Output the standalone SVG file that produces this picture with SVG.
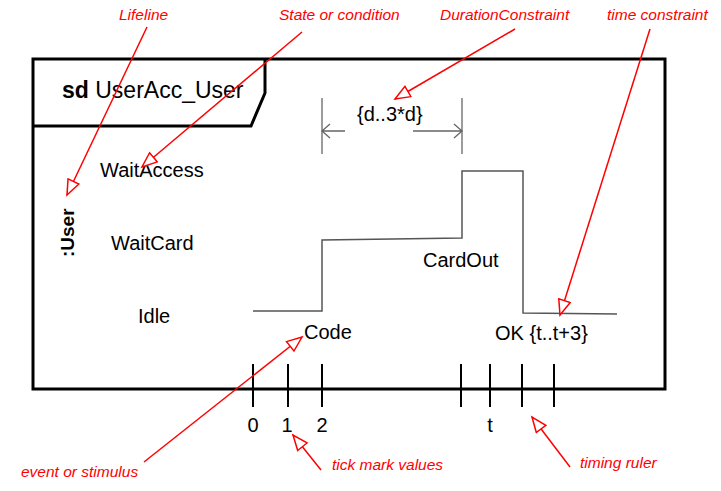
<svg xmlns="http://www.w3.org/2000/svg" width="721" height="491" viewBox="0 0 721 491">
<defs>
<style>
.t{font-family:"Liberation Sans",Arial,sans-serif;font-size:20px;fill:#000}
.n{font-family:"Liberation Sans",Arial,sans-serif;font-size:15.5px;font-style:italic;fill:#f00}
.frame{fill:none;stroke:#000;stroke-width:3}
.wave{fill:none;stroke:#555;stroke-width:1.5}
.dim{fill:none;stroke:#666;stroke-width:1.3}
.tick{stroke:#000;stroke-width:2}
.red{fill:none;stroke:#f00;stroke-width:1.5;marker-end:url(#ah)}
</style>
<marker id="ah" markerUnits="userSpaceOnUse" markerWidth="20" markerHeight="16" refX="16" refY="7" orient="auto" viewBox="0 0 20 16">
<path d="M1,1 L16,7 L1,13 Z" fill="#fff" stroke="#f00" stroke-width="1.5"/>
</marker>
</defs>
<rect width="721" height="491" fill="#fff"/>
<g id="frame">
<rect class="frame" x="33" y="59" width="632" height="330"/>
<path class="frame" d="M33,126 L251,126 L265,93 L265,59"/>
<text class="t" x="62" y="98" style="font-size:23px"><tspan font-weight="bold">sd</tspan> UserAcc_User</text>
</g>
<g id="lifeline">
<text class="t" transform="translate(74,257) rotate(-90)" font-weight="bold" style="font-size:19px">:User</text>
</g>
<g id="states">
<text class="t" x="100" y="177">WaitAccess</text>
<text class="t" x="111" y="250">WaitCard</text>
<text class="t" x="138" y="323">Idle</text>
</g>
<g id="waveform">
<path class="wave" d="M253,311 L322,311 L322,240 L462,238 L462,171 L523,171 L523,313 L617,314"/>
<text class="t" x="423" y="267">CardOut</text>
<text class="t" x="304" y="339">Code</text>
<text class="t" x="495" y="340">OK {t..t+3}</text>
</g>
<g id="duration">
<line class="dim" x1="322" y1="98" x2="322" y2="154"/>
<line class="dim" x1="462" y1="98" x2="462" y2="154"/>
<path class="dim" d="M322,131 L345,131 M330,124 L322,131 L330,138"/>
<path class="dim" d="M413,131 L462,131 M454,124 L462,131 L454,138"/>
<text class="t" x="357" y="121">{d..3*d}</text>
</g>
<g id="ruler">
<line class="tick" x1="253" y1="364" x2="253" y2="407"/>
<line class="tick" x1="288" y1="364" x2="288" y2="407"/>
<line class="tick" x1="322" y1="364" x2="322" y2="407"/>
<line class="tick" x1="461" y1="364" x2="461" y2="407"/>
<line class="tick" x1="490" y1="364" x2="490" y2="407"/>
<line class="tick" x1="522" y1="364" x2="522" y2="407"/>
<line class="tick" x1="554" y1="364" x2="554" y2="407"/>
<text class="t" x="253" y="432" text-anchor="middle">0</text>
<text class="t" x="287" y="432" text-anchor="middle">1</text>
<text class="t" x="322" y="432" text-anchor="middle">2</text>
<text class="t" x="490" y="432" text-anchor="middle">t</text>
</g>
<g id="annotations">
<text class="n" x="119" y="20">Lifeline</text>
<text class="n" x="279" y="20">State or condition</text>
<text class="n" x="440" y="20">DurationConstraint</text>
<text class="n" x="607" y="20">time constraint</text>
<text class="n" x="21" y="477">event or stimulus</text>
<text class="n" x="332" y="470">tick mark values</text>
<text class="n" x="580" y="468">timing ruler</text>
</g>
<g id="connectors">
<line class="red" x1="147" y1="27" x2="67" y2="195"/>
<line class="red" x1="302" y1="32" x2="142" y2="167"/>
<line class="red" x1="515" y1="29" x2="395" y2="99"/>
<line class="red" x1="650" y1="29" x2="560" y2="315"/>
<line class="red" x1="144" y1="462" x2="302" y2="337"/>
<line class="red" x1="321" y1="470" x2="293" y2="435"/>
<line class="red" x1="570" y1="467" x2="532" y2="417"/>
</g>
</svg>
